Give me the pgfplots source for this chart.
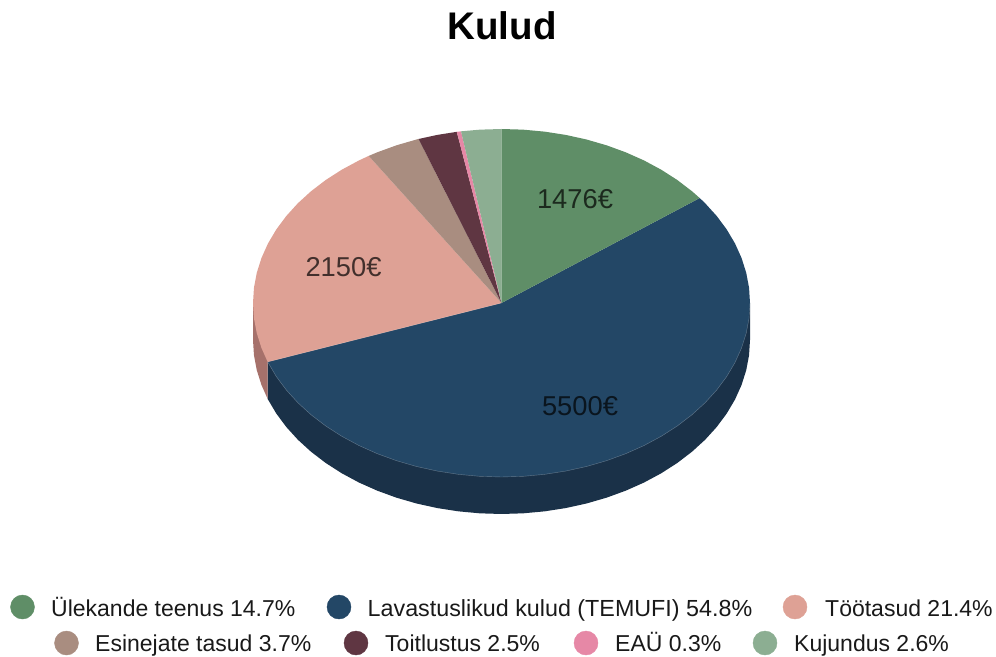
\documentclass[border=0pt]{standalone}
\usepackage{pgfplots}
\pgfplotsset{compat=1.18}
\usepackage{fontspec}
\setmainfont{Liberation Sans}
\definecolor{cA}{HTML}{5F8E67}
\definecolor{cB}{HTML}{234766}
\definecolor{cC}{HTML}{DEA195}
\definecolor{cD}{HTML}{A98D80}
\definecolor{cE}{HTML}{5F3642}
\definecolor{cF}{HTML}{E688A6}
\definecolor{cG}{HTML}{8CAE92}
\definecolor{wB}{HTML}{1A3148}
\definecolor{wC}{HTML}{A6716B}
\pgfplotsset{base/.style={hide axis,scale only axis,width=996pt,height=656pt,clip=false,at={(0,0)},anchor=south west},
 wedge/.style={fill=#1,draw=none,forget plot}}
\begin{document}
\begin{tikzpicture}
\path[use as bounding box] (0,0) rectangle (996pt,656pt);
% pie in unit-ellipse coordinates: 1 x unit = 248.5 px, 1 y unit = 174 px, centre at pixel (501.5,303)
\begin{axis}[base,xmin=-2.01811,xmax=1.98994,ymin=-2.02874,ymax=1.74138]
% side walls
\addplot[fill=wB,draw=none,forget plot] coordinates {(0,0)(1,0)(1,-.2126)(.9962,-.2998)(.9848,-.3862)(.9659,-.4714)(.9397,-.5546)(.9063,-.6352)(.866,-.7126)(.8192,-.7862)(.766,-.8554)(.7071,-.9197)(.6428,-.9786)(.5736,-1.0318)(.5,-1.0786)(.4226,-1.1189)(.342,-1.1523)(.2588,-1.1785)(.1736,-1.1974)(.0872,-1.2088)(0,-1.2126)(-.0872,-1.2088)(-.1736,-1.1974)(-.2588,-1.1785)(-.342,-1.1523)(-.4226,-1.1189)(-.5,-1.0786)(-.5736,-1.0318)(-.6428,-.9786)(-.7071,-.9197)(-.766,-.8554)(-.8192,-.7862)(-.866,-.7126)(-.9063,-.6352)(-.9397,-.5546)(-.9409,-.5513)(-.9409,-.3387)} -- cycle;
\addplot[fill=wC,draw=none,forget plot] coordinates {(0,0)(-.9409,-.3387)(-.9409,-.5513)(-.9659,-.4714)(-.9848,-.3862)(-.9962,-.2998)(-1,-.2126)(-1,0)} -- cycle;
% top face
\addplot[wedge=cB] coordinates {(0,0)(.7976,.6032)(.8192,.5736)(.866,.5)(.9063,.4226)(.9397,.342)(.9659,.2588)(.9848,.1736)(.9962,.0872)(1,0)(.9962,-.0872)(.9848,-.1736)(.9659,-.2588)(.9397,-.342)(.9063,-.4226)(.866,-.5)(.8192,-.5736)(.766,-.6428)(.7071,-.7071)(.6428,-.766)(.5736,-.8192)(.5,-.866)(.4226,-.9063)(.342,-.9397)(.2588,-.9659)(.1736,-.9848)(.0872,-.9962)(0,-1)(-.0872,-.9962)(-.1736,-.9848)(-.2588,-.9659)(-.342,-.9397)(-.4226,-.9063)(-.5,-.866)(-.5736,-.8192)(-.6428,-.766)(-.7071,-.7071)(-.766,-.6428)(-.8192,-.5736)(-.866,-.5)(-.9063,-.4226)(-.9397,-.342)(-.9409,-.3387)} -- cycle;
\addplot[wedge=cC] coordinates {(0,0)(-.9409,-.3387)(-.9659,-.2588)(-.9848,-.1736)(-.9962,-.0872)(-1,0)(-.9962,.0872)(-.9848,.1736)(-.9659,.2588)(-.9397,.342)(-.9063,.4226)(-.866,.5)(-.8192,.5736)(-.766,.6428)(-.7071,.7071)(-.6428,.766)(-.5736,.8192)(-.5344,.8453)} -- cycle;
\addplot[wedge=cD] coordinates {(0,0)(-.5344,.8453)(-.5,.866)(-.4226,.9063)(-.342,.9397)(-.3338,.9426)} -- cycle;
\addplot[wedge=cE] coordinates {(0,0)(-.3338,.9426)(-.2588,.9659)(-.1800,.9837)} -- cycle;
\addplot[wedge=cF] coordinates {(0,0)(-.1800,.9837)(-.1736,.9848)(-.1630,.9866)} -- cycle;
\addplot[wedge=cG] coordinates {(0,0)(-.1630,.9866)(-.0872,.9962)(0,1)} -- cycle;
\addplot[wedge=cA] coordinates {(0,0)(0,1)(.0872,.9962)(.1736,.9848)(.2588,.9659)(.342,.9397)(.4226,.9063)(.5,.866)(.5736,.8192)(.6428,.766)(.7071,.7071)(.766,.6428)(.7976,.6032)} -- cycle;
% thin light rim where the blue slice meets its wall and the salmon slice
\addplot[white,opacity=0.3,line width=0.4pt,forget plot] coordinates {(0,0)(-.9409,-.3387)(-.9063,-.4226)(-.866,-.5)(-.8192,-.5736)(-.766,-.6428)(-.7071,-.7071)(-.6428,-.766)(-.5736,-.8192)(-.5,-.866)(-.4226,-.9063)(-.342,-.9397)(-.2588,-.9659)(-.1736,-.9848)(-.0872,-.9962)(0,-1)(.0872,-.9962)(.1736,-.9848)(.2588,-.9659)(.342,-.9397)(.4226,-.9063)(.5,-.866)(.5736,-.8192)(.6428,-.766)(.7071,-.7071)(.766,-.6428)(.8192,-.5736)(.866,-.5)(.9063,-.4226)(.9397,-.342)(.9659,-.2588)(.9848,-.1736)(.9962,-.0872)(1,0)};
\end{axis}
% pixel coordinates of the reference for text and legend
\begin{axis}[base,xmin=0,xmax=996,ymin=0,ymax=656,y dir=reverse]
\addplot[only marks,mark=*,mark size=12pt,color=cA,forget plot] coordinates {(22.5,607)};
\addplot[only marks,mark=*,mark size=12pt,color=cB,forget plot] coordinates {(339,607)};
\addplot[only marks,mark=*,mark size=12pt,color=cC,forget plot] coordinates {(795,607)};
\addplot[only marks,mark=*,mark size=12pt,color=cD,forget plot] coordinates {(66.5,643)};
\addplot[only marks,mark=*,mark size=12pt,color=cE,forget plot] coordinates {(356,643)};
\addplot[only marks,mark=*,mark size=12pt,color=cF,forget plot] coordinates {(586,643)};
\addplot[only marks,mark=*,mark size=12pt,color=cG,forget plot] coordinates {(765,643)};
\node[anchor=base,inner sep=0pt,font=\fontsize{38.5}{40}\selectfont\bfseries] at (axis cs:502,39) {Kulud};
\tikzset{lab/.style={anchor=base,inner sep=0pt,font=\fontsize{27.3}{28}\selectfont,text=black,text opacity=0.7},
 leg/.style={anchor=base west,inner sep=0pt,font=\fontsize{23}{24}\selectfont,text=black!90}}
\node[lab] at (axis cs:575,208.5) {1476€};
\node[lab] at (axis cs:343.5,276.5) {2150€};
\node[lab] at (axis cs:580,415) {5500€};
\node[leg] at (axis cs:51,616) {Ülekande teenus 14.7\%};
\node[leg,font=\fontsize{23.3}{24}\selectfont] at (axis cs:367.5,616) {Lavastuslikud kulud (TEMUFI) 54.8\%};
\node[leg] at (axis cs:825,616) {Töötasud 21.4\%};
\node[leg] at (axis cs:95,651) {Esinejate tasud 3.7\%};
\node[leg] at (axis cs:385,651) {Toitlustus 2.5\%};
\node[leg] at (axis cs:615,651) {EAÜ 0.3\%};
\node[leg] at (axis cs:794,651) {Kujundus 2.6\%};
\end{axis}
\end{tikzpicture}
\end{document}
